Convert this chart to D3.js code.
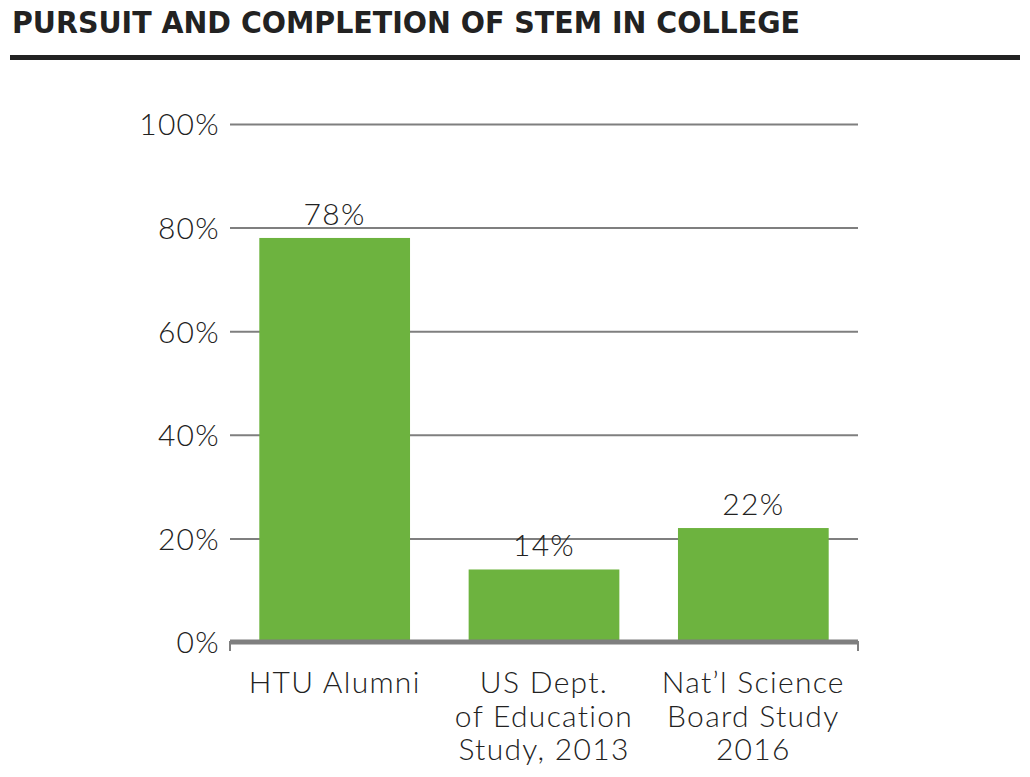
<html>
<head>
<style>
  body { margin: 0; background: #fff; }
  text { font-family: Lato, "Open Sans", sans-serif; }
</style>
</head>
<body>
<svg id="mainSvg" width="1030" height="777"></svg>
<script src="https://d3js.org/d3.v7.min.js"></script>
<script>
  const categories = [['HTU Alumni'], ['US Dept.', 'of Education', 'Study, 2013'], ['Nat\u2019l Science', 'Board Study', '2016']]
  const values = [78, 14, 22]
  const yTicks = [0, 20, 40, 60, 80, 100]
  const title = 'PURSUIT AND COMPLETION OF STEM IN COLLEGE'

  const svg = d3.select('#mainSvg')
  const plotLeft = 230, plotRight = 858, plotTop = 124, plotBottom = 642
  const labelFont = 30, labelSpacing = 1.3

  svg.append('text').attr('x', 12).attr('y', 33)
    .attr('font-size', 30).attr('font-weight', 700).attr('fill', '#222')
    .style('font-family', '"DejaVu Sans", sans-serif')
    .attr('textLength', 788).attr('lengthAdjust', 'spacingAndGlyphs')
    .text(title)
  svg.append('rect').attr('x', 10).attr('y', 55).attr('width', 1010).attr('height', 5).attr('fill', '#222')

  const xScale = d3.scaleBand().domain(d3.range(values.length)).range([plotLeft, plotRight])
    .paddingInner(0.28).paddingOuter(0.14)
  const yScale = d3.scaleLinear().domain([0, 100]).range([plotBottom, plotTop])

  // gridlines + tick labels
  const yAxis = svg.append('g').attr('transform', `translate(${plotLeft}, 0)`)
    .call(d3.axisLeft(yScale).tickValues(yTicks).tickSize(-(plotRight - plotLeft)).tickFormat(d => d + '%'))
  yAxis.select('.domain').remove()
  yAxis.selectAll('line').attr('stroke', '#7f7f7f').attr('stroke-width', 2)
  yAxis.selectAll('text').attr('x', -10).attr('dy', '0.36em').attr('font-size', labelFont).attr('font-weight', 300)
    .attr('letter-spacing', labelSpacing).attr('fill', '#222').style('font-family', 'Lato, sans-serif')

  svg.selectAll('.bar').data(values).join('rect').attr('class', 'bar')
    .attr('x', (d, i) => xScale(i)).attr('width', xScale.bandwidth())
    .attr('y', d => yScale(d)).attr('height', d => plotBottom - yScale(d))
    .attr('fill', '#6db33f')

  svg.selectAll('.val').data(values).join('text').attr('class', 'val')
    .attr('x', (d, i) => xScale(i) + xScale.bandwidth() / 2)
    .attr('y', d => yScale(d) - 13)
    .attr('text-anchor', 'middle').attr('font-size', labelFont).attr('font-weight', 300)
    .attr('letter-spacing', labelSpacing).attr('fill', '#222')
    .text(d => d + '%')

  // baseline with end ticks
  const base = svg.append('g').attr('transform', `translate(0, ${plotBottom})`)
    .call(d3.axisBottom(xScale).tickSize(0).tickFormat(''))
  base.select('.domain').attr('d', `M${plotLeft},9V0H${plotRight}V9`).attr('stroke', '#7f7f7f').attr('stroke-width', 2).attr('fill', 'none')
  base.append('line').attr('x1', plotLeft).attr('x2', plotRight).attr('y1', 0).attr('y2', 0)
    .attr('stroke', '#7f7f7f').attr('stroke-width', 5)

  const cat = svg.selectAll('.cat').data(categories).join('text').attr('class', 'cat')
    .attr('x', (d, i) => xScale(i) + xScale.bandwidth() / 2)
    .attr('y', 693)
    .attr('text-anchor', 'middle').attr('font-size', labelFont).attr('font-weight', 300)
    .attr('letter-spacing', labelSpacing).attr('fill', '#222')
  cat.selectAll('tspan').data(d => d).join('tspan')
    .attr('x', function () { return this.parentNode.getAttribute('x') })
    .attr('dy', (d, i) => i === 0 ? 0 : 33.5)
    .text(d => d)
</script>
</body>
</html>
